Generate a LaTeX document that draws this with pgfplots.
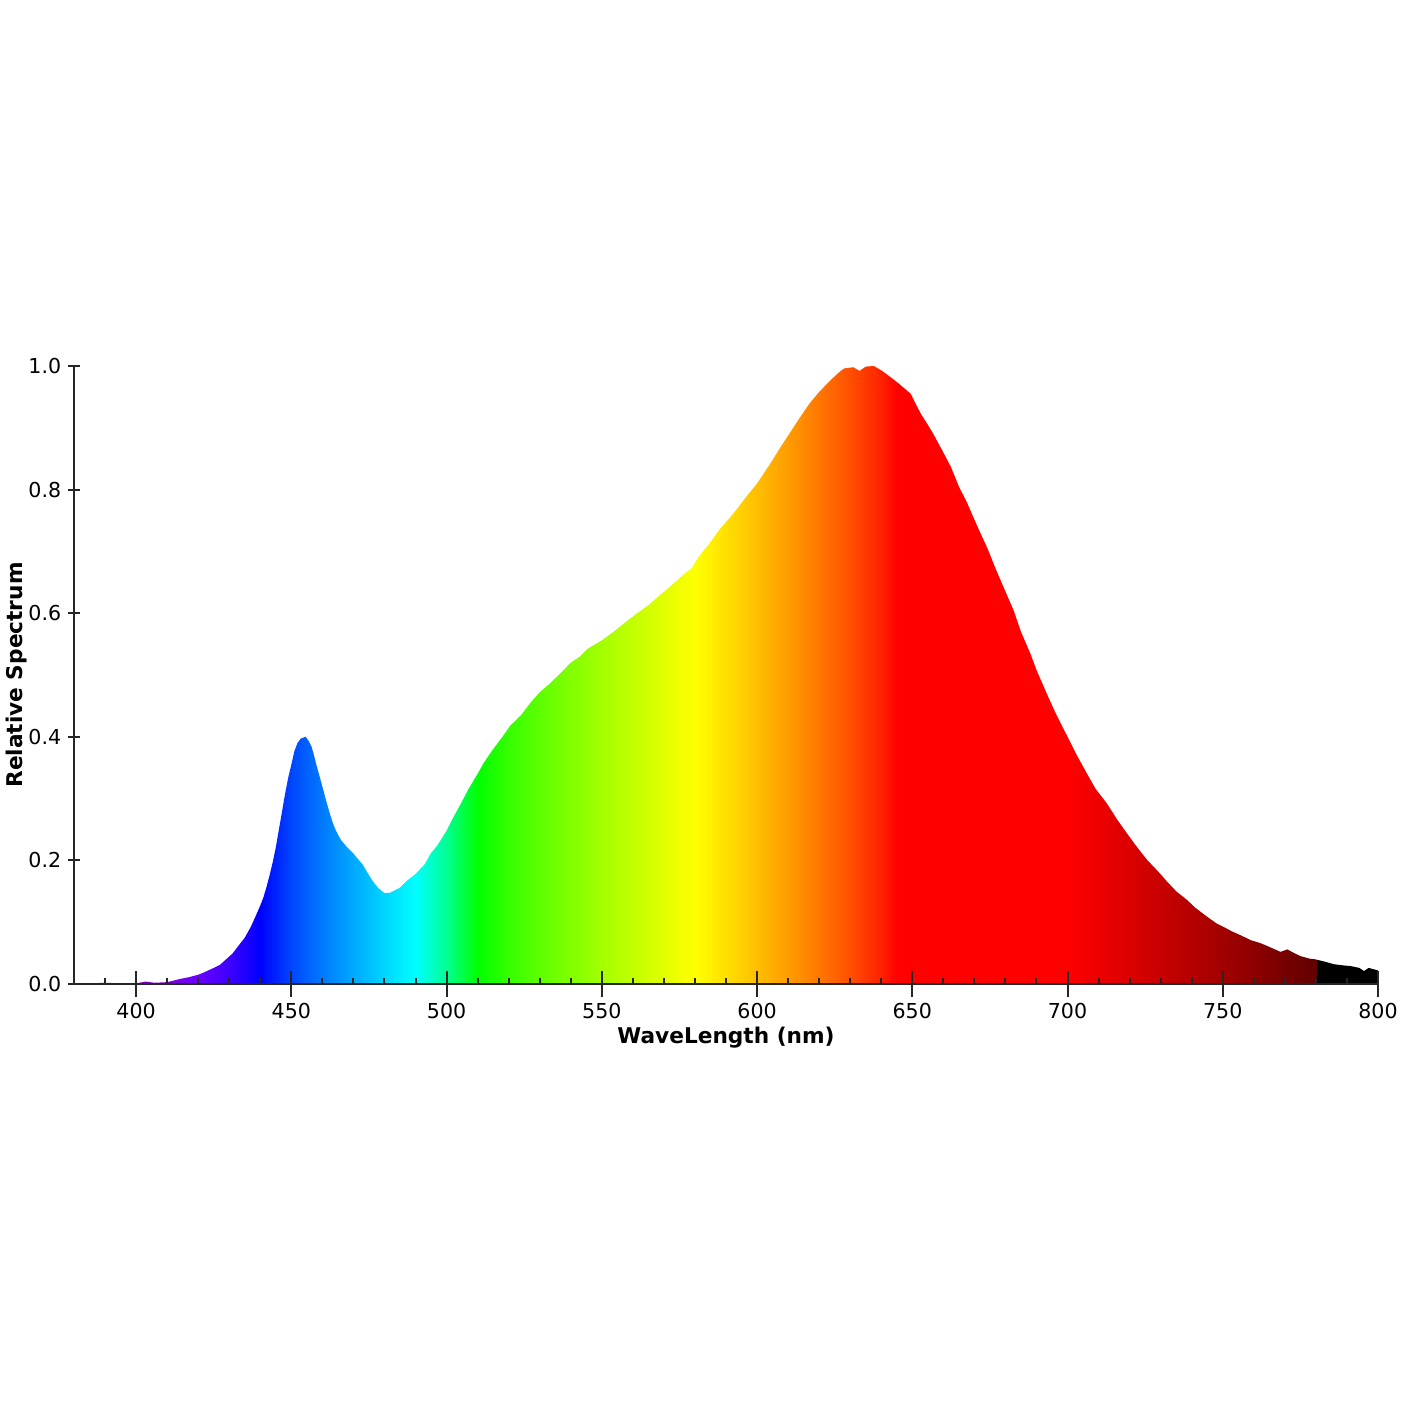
\documentclass[border=0pt]{standalone}
\usepackage{fontspec}
\setmainfont{DejaVu Sans}
\usepackage{pgfplots}
\pgfplotsset{compat=1.18}
\usepackage{pgfplotstable}

\pgfdeclarehorizontalshading{spectrum}{100bp}{%
rgb(0bp)=(0.382,0,0.382);
rgb(25bp)=(0.382,0,0.382);
rgb(26.1905bp)=(0.476,0,0.551);
rgb(27.381bp)=(0.512,0,0.709);
rgb(28.5714bp)=(0.492,0,0.857);
rgb(29.7619bp)=(0.415,0,1);
rgb(30.9524bp)=(0.239,0,1);
rgb(32.1429bp)=(0,0,1);
rgb(33.3333bp)=(0,0.276,1);
rgb(34.5238bp)=(0,0.480,1);
rgb(35.7143bp)=(0,0.665,1);
rgb(36.9048bp)=(0,0.837,1);
rgb(38.0952bp)=(0,1,1);
rgb(39.2857bp)=(0,1,0.574);
rgb(40.4762bp)=(0,1,0);
rgb(41.6667bp)=(0.211,1,0);
rgb(42.8571bp)=(0.367,1,0);
rgb(44.0476bp)=(0.508,1,0);
rgb(45.2381bp)=(0.639,1,0);
rgb(46.4286bp)=(0.764,1,0);
rgb(47.619bp)=(0.884,1,0);
rgb(48.8095bp)=(1,1,0);
rgb(50bp)=(1,0.875,0);
rgb(51.1905bp)=(1,0.745,0);
rgb(52.381bp)=(1,0.609,0);
rgb(53.5714bp)=(1,0.466,0);
rgb(54.7619bp)=(1,0.309,0);
rgb(55.9524bp)=(1,0.129,0);
rgb(56.5476bp)=(1,0,0);
rgb(63.0952bp)=(1,0,0);
rgb(64.2857bp)=(0.929,0,0);
rgb(65.4762bp)=(0.857,0,0);
rgb(66.6667bp)=(0.784,0,0);
rgb(67.8571bp)=(0.709,0,0);
rgb(69.0476bp)=(0.631,0,0);
rgb(70.2381bp)=(0.551,0,0);
rgb(71.4286bp)=(0.468,0,0);
rgb(72.619bp)=(0.382,0,0);
rgb(72.63bp)=(0,0,0);
rgb(100bp)=(0,0,0)}

\pgfplotstableread{
w s
380 0.000
385 0.001
390 0.002
395 0.001
400 0.001
403 0.004
406 0.002
410 0.003
414 0.008
417 0.011
420 0.015
422 0.019
425 0.026
427 0.031
429 0.040
431 0.049
433 0.062
435 0.075
437 0.093
438.7 0.112
440 0.127
441 0.140
442 0.157
443 0.176
444 0.197
445 0.221
446 0.250
447 0.279
448 0.308
449 0.334
450 0.355
451 0.377
452 0.390
453 0.397
454.6 0.400
455.5 0.394
456.5 0.384
457.3 0.370
458.1 0.354
459 0.338
459.7 0.325
460.5 0.310
461.3 0.295
462.4 0.276
463.4 0.260
464.3 0.249
465.1 0.241
466 0.233
468 0.221
470 0.211
473 0.193
476 0.168
478 0.155
480 0.147
482 0.148
485 0.156
487 0.166
490 0.178
493 0.194
495 0.212
497 0.224
500 0.248
502 0.268
504.4 0.290
507 0.315
510 0.340
512 0.358
515 0.380
518 0.400
520.5 0.418
524 0.435
527 0.455
530 0.472
533 0.485
536.7 0.503
540 0.520
543 0.530
545.3 0.542
550 0.556
553.8 0.570
557 0.583
561.4 0.600
565 0.613
568.9 0.630
572 0.643
576.4 0.663
579 0.673
581 0.690
585 0.715
588 0.736
592.5 0.762
596 0.785
600 0.810
604 0.840
607.6 0.869
611 0.895
614 0.918
617 0.940
620 0.958
623.7 0.977
626 0.988
628 0.996
631 0.998
633 0.992
635 0.999
637.6 1.000
640 0.993
643 0.982
646 0.970
649.5 0.955
652.7 0.923
655 0.905
657 0.888
660 0.860
662.4 0.837
665 0.805
667.7 0.778
671 0.740
674.2 0.705
677 0.670
680 0.635
682.6 0.605
685 0.570
688 0.535
690 0.508
693.3 0.470
696 0.440
700 0.400
703 0.370
706.2 0.341
709 0.316
712.7 0.292
716 0.266
719.1 0.244
722 0.224
725.6 0.201
729 0.183
732 0.166
735 0.150
738.5 0.136
741 0.124
744.9 0.109
748 0.098
750 0.093
753 0.085
755.7 0.079
759 0.071
762.2 0.066
765 0.060
768.6 0.052
770.8 0.056
773 0.050
775.1 0.045
778 0.041
779.7 0.040
783 0.036
785.8 0.032
789 0.030
791.2 0.029
794 0.026
795.5 0.021
797 0.026
800 0.022
}\spec

\begin{document}
\begin{tikzpicture}
\useasboundingbox (-26.64pt,-156.96pt) rectangle (484.56pt,354.24pt);
\begin{axis}[
  at={(0pt,0pt)}, anchor=south west,
  scale only axis,
  width=469.44pt, height=222.48pt,
  xmin=380, xmax=800, ymin=0, ymax=1,
  axis x line*=bottom, axis y line*=left,
  axis line style={-, line width=0.72pt, color=black!85},
  axis on top,
  xtick={400,450,...,800},
  minor xtick={390,400,...,790},
  ytick={0,0.2,...,1.0},
  xtick align=center, ytick align=center,
  major tick length=9.36pt,
  minor tick length=2.16pt,
  every tick/.style={line width=0.72pt, color=black!85},
  minor x tick style={yshift=1.08pt},
  ytick style={xscale=0.4615},
  xticklabel shift=-1.44pt,
  yticklabel shift=-3.6pt,
  /pgf/number format/assume math mode=true,
  yticklabel style={/pgf/number format/.cd,fixed,fixed zerofill,precision=1},
  ticklabel style={font=\fontsize{7.4pt}{9pt}\selectfont},
  xlabel={WaveLength (nm)},
  ylabel={Relative Spectrum},
  every axis x label/.style={at={(rel axis cs:0.5,0)}, anchor=center, yshift=-19.44pt},
  every axis y label/.style={at={(rel axis cs:0,0.5)}, xshift=-20.52pt, anchor=center, rotate=90},
  label style={font=\fontsize{7.8pt}{9pt}\selectfont\bfseries},
  clip=false,
]
\addplot[draw=none, shade, shading=spectrum] table[x=w, y=s] {\spec} \closedcycle;
\end{axis}
\end{tikzpicture}
\end{document}
